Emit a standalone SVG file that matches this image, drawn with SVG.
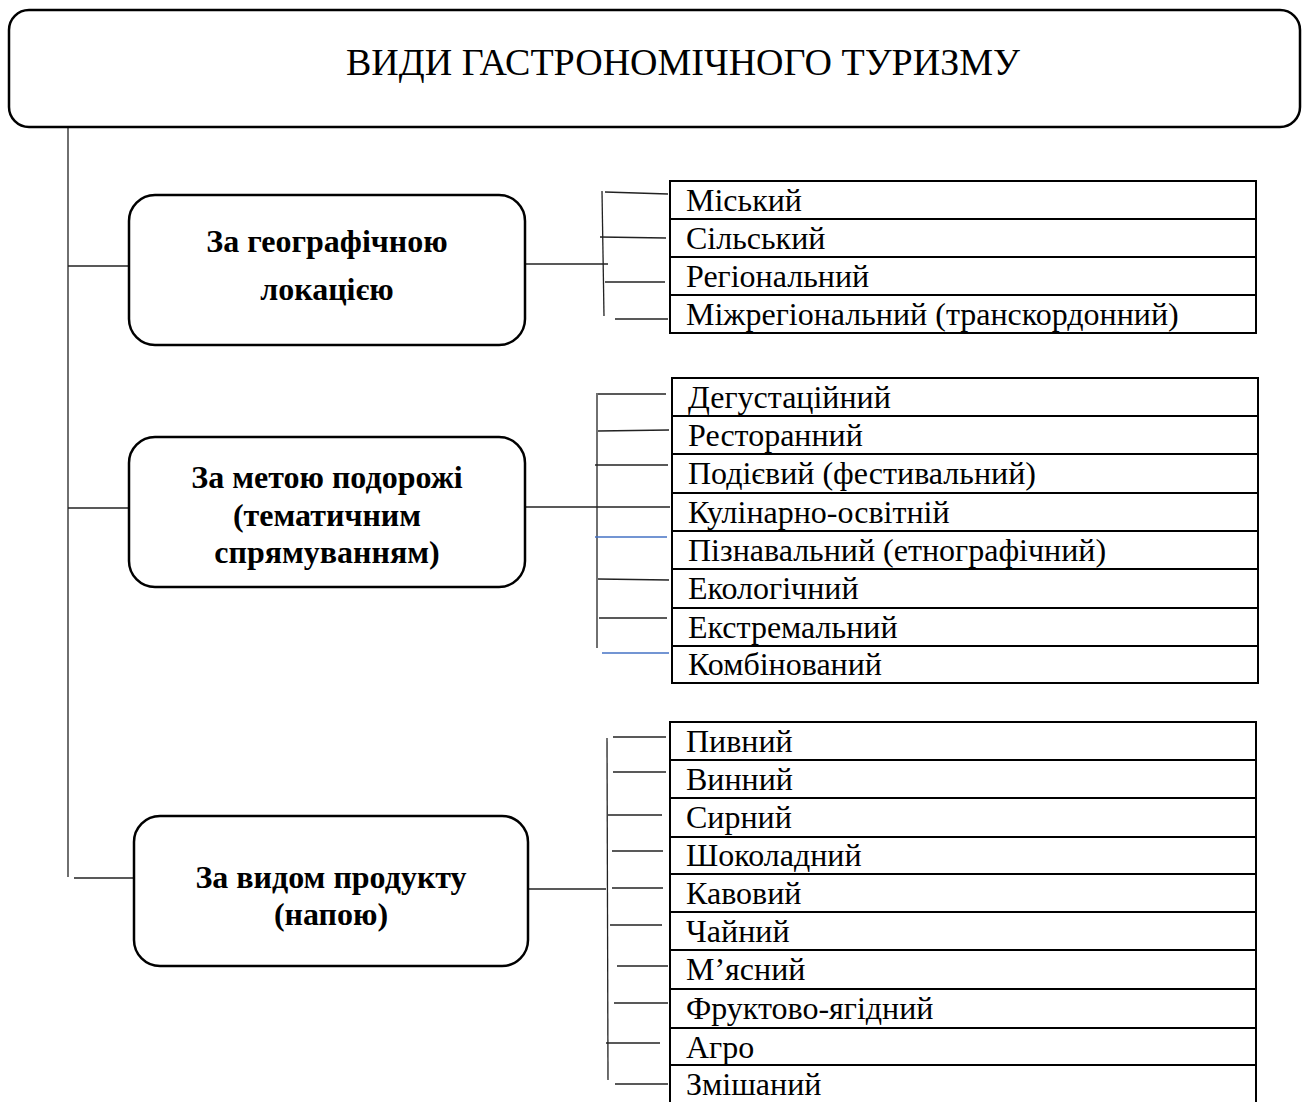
<svg xmlns="http://www.w3.org/2000/svg" width="1306" height="1102" viewBox="0 0 1306 1102">
<style>
.box{fill:#fff;stroke:#000;stroke-width:2.5}
.cell{fill:#fff;stroke:#000;stroke-width:2}
.ln{stroke:#222;stroke-width:1.3;fill:none}
.bl{stroke:#4472C4;stroke-width:1.3;fill:none}
.title{font-family:"Liberation Serif","Times New Roman",serif;font-size:38px;fill:#000}
.cat{font-family:"Liberation Serif","Times New Roman",serif;font-size:32px;font-weight:bold;fill:#000;text-anchor:middle}
.it{font-family:"Liberation Serif","Times New Roman",serif;font-size:32px;fill:#000}
</style>
<rect width="1306" height="1102" fill="#fff"/>
<g id="connectors">
<line class="ln" x1="68" y1="123" x2="68" y2="877"/>
<line class="ln" x1="68" y1="266" x2="129" y2="266"/>
<line class="ln" x1="68" y1="508" x2="129" y2="508"/>
<line class="ln" x1="74" y1="878" x2="134" y2="878"/>
<line class="ln" x1="523" y1="264" x2="608" y2="264"/>
<line class="ln" x1="602" y1="191" x2="604" y2="316"/>
<line class="ln" x1="605" y1="192" x2="668" y2="194"/>
<line class="ln" x1="600" y1="237" x2="666" y2="238"/>
<line class="ln" x1="605" y1="282" x2="665" y2="282"/>
<line class="ln" x1="615" y1="319" x2="668" y2="319"/>
<line class="ln" x1="525" y1="507" x2="670" y2="507"/>
<line class="ln" x1="597" y1="393" x2="597" y2="648"/>
<line class="ln" x1="598" y1="394" x2="666" y2="394"/>
<line class="ln" x1="598" y1="431" x2="669" y2="430"/>
<line class="ln" x1="595" y1="465" x2="668" y2="465"/>
<line class="bl" x1="595" y1="537" x2="667" y2="537"/>
<line class="ln" x1="598" y1="579" x2="669" y2="580"/>
<line class="ln" x1="599" y1="618" x2="667" y2="618"/>
<line class="bl" x1="602" y1="653" x2="669" y2="653"/>
<line class="ln" x1="528" y1="889" x2="606" y2="889"/>
<line class="ln" x1="607" y1="738" x2="608" y2="1080"/>
<line class="ln" x1="613" y1="737" x2="666" y2="737"/>
<line class="ln" x1="613" y1="772" x2="666" y2="772"/>
<line class="ln" x1="608" y1="815" x2="662" y2="815"/>
<line class="ln" x1="612" y1="851" x2="663" y2="851"/>
<line class="ln" x1="612" y1="888" x2="663" y2="888"/>
<line class="ln" x1="610" y1="925" x2="662" y2="925"/>
<line class="ln" x1="617" y1="966" x2="668" y2="966"/>
<line class="ln" x1="614" y1="1003" x2="668" y2="1003"/>
<line class="ln" x1="606" y1="1043" x2="660" y2="1043"/>
<line class="ln" x1="615" y1="1084" x2="668" y2="1084"/>
</g>
<g id="root">
<rect class="box" x="9" y="10" width="1291" height="117" rx="20"/>
<text class="title" x="346" y="75">ВИДИ ГАСТРОНОМІЧНОГО ТУРИЗМУ</text>
</g>
<g id="cat-geo">
<rect class="box" x="129" y="195" width="396" height="150" rx="26"/>
<text class="cat" x="327" y="252">За географічною</text>
<text class="cat" x="327" y="300">локацією</text>
</g>
<g id="cat-goal">
<rect class="box" x="129" y="437" width="396" height="150" rx="26"/>
<text class="cat" x="327" y="488">За метою подорожі</text>
<text class="cat" x="327" y="526">(тематичним</text>
<text class="cat" x="327" y="563">спрямуванням)</text>
</g>
<g id="cat-product">
<rect class="box" x="134" y="816" width="394" height="150" rx="26"/>
<text class="cat" x="331" y="888">За видом продукту</text>
<text class="cat" x="331" y="925">(напою)</text>
</g>
<g id="list-geo">
<rect class="cell" x="670" y="181" width="586" height="38"/>
<rect class="cell" x="670" y="219" width="586" height="38"/>
<rect class="cell" x="670" y="257" width="586" height="38"/>
<rect class="cell" x="670" y="295" width="586" height="38"/>
<text class="it" x="686" y="211">Міський</text>
<text class="it" x="686" y="249">Сільський</text>
<text class="it" x="686" y="287">Регіональний</text>
<text class="it" x="686" y="325">Міжрегіональний (транскордонний)</text>
</g>
<g id="list-goal">
<rect class="cell" x="672" y="378" width="586" height="38"/>
<rect class="cell" x="672" y="416" width="586" height="38"/>
<rect class="cell" x="672" y="454" width="586" height="39"/>
<rect class="cell" x="672" y="493" width="586" height="38"/>
<rect class="cell" x="672" y="531" width="586" height="38"/>
<rect class="cell" x="672" y="569" width="586" height="39"/>
<rect class="cell" x="672" y="608" width="586" height="38"/>
<rect class="cell" x="672" y="646" width="586" height="37"/>
<text class="it" x="688" y="408">Дегустаційний</text>
<text class="it" x="688" y="446">Ресторанний</text>
<text class="it" x="688" y="484">Подієвий (фестивальний)</text>
<text class="it" x="688" y="523">Кулінарно-освітній</text>
<text class="it" x="688" y="561">Пізнавальний (етнографічний)</text>
<text class="it" x="688" y="599">Екологічний</text>
<text class="it" x="688" y="638">Екстремальний</text>
<text class="it" x="688" y="675">Комбінований</text>
</g>
<g id="list-product">
<rect class="cell" x="670" y="722" width="586" height="38"/>
<rect class="cell" x="670" y="760" width="586" height="38"/>
<rect class="cell" x="670" y="798" width="586" height="39"/>
<rect class="cell" x="670" y="837" width="586" height="37"/>
<rect class="cell" x="670" y="874" width="586" height="38"/>
<rect class="cell" x="670" y="912" width="586" height="38"/>
<rect class="cell" x="670" y="950" width="586" height="39"/>
<rect class="cell" x="670" y="989" width="586" height="39"/>
<rect class="cell" x="670" y="1028" width="586" height="37"/>
<rect class="cell" x="670" y="1065" width="586" height="45"/>
<text class="it" x="686" y="752">Пивний</text>
<text class="it" x="686" y="790">Винний</text>
<text class="it" x="686" y="828">Сирний</text>
<text class="it" x="686" y="866">Шоколадний</text>
<text class="it" x="686" y="904">Кавовий</text>
<text class="it" x="686" y="942">Чайний</text>
<text class="it" x="686" y="980">М’ясний</text>
<text class="it" x="686" y="1019">Фруктово-ягідний</text>
<text class="it" x="686" y="1058">Агро</text>
<text class="it" x="686" y="1095">Змішаний</text>
</g>
</svg>
